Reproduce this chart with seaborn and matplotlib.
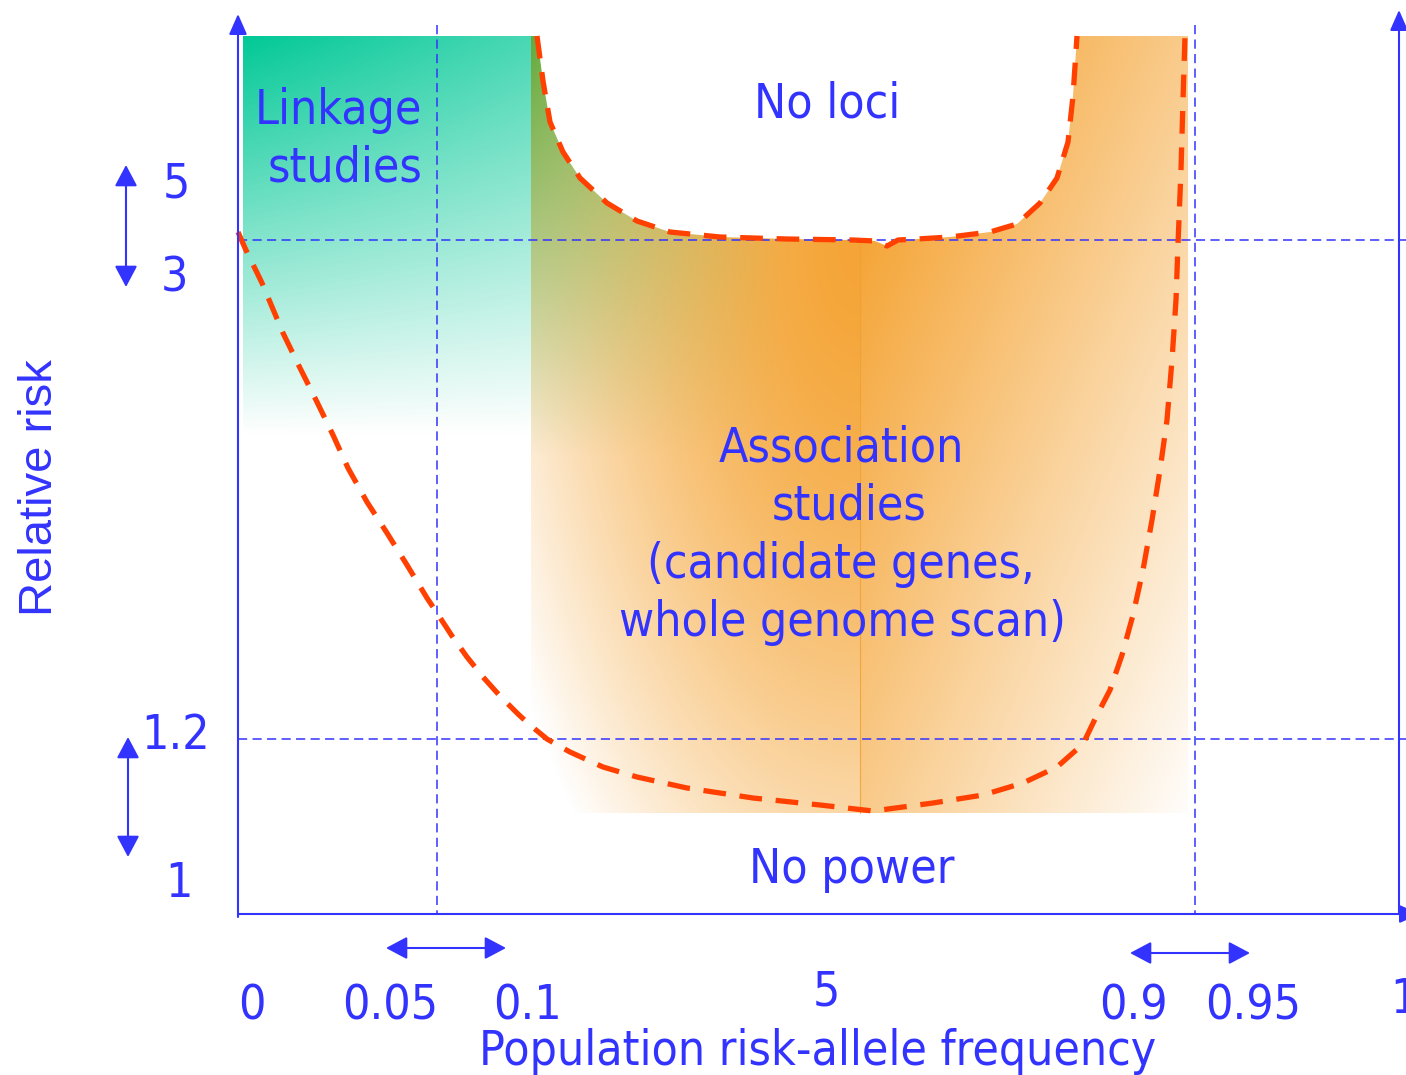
import numpy as np
import matplotlib
matplotlib.use("Agg")
import matplotlib.pyplot as plt
import seaborn as sns
from matplotlib.patches import Polygon, Rectangle, FancyArrowPatch, ArrowStyle

# ---------------- data (diagram coordinates, pixel-like units) ----------------
W, H = 1406, 1075

# upper boundary of association region ("No loci" limit)
upper_x = [537, 543, 550, 563, 580, 607, 637, 670, 720, 787, 853, 875, 887, 898,
           917, 950, 990, 1017, 1040, 1057, 1068, 1073, 1077]
upper_y = [36, 81, 122, 152, 178, 203, 221, 232, 237, 239, 240, 241, 246, 240,
           239, 237, 232, 224, 203, 178, 142, 96, 36]

# lower boundary ("No power" limit)
lower_x = [238, 245, 262, 283, 300, 317, 333, 348, 367, 387, 407, 427, 437, 452,
           467, 483, 500, 518, 530, 547, 570, 603, 637, 687, 753, 820, 873, 903,
           933, 983, 1023, 1057, 1083, 1096, 1110, 1122, 1133, 1143, 1152, 1160,
           1167, 1172, 1176, 1178, 1181, 1183, 1185]
lower_y = [232, 248, 283, 333, 368, 402, 435, 468, 502, 533, 565, 598, 613, 636,
           657, 677, 696, 714, 725, 739, 752, 767, 777, 788, 798, 805, 811, 807,
           803, 795, 783, 767, 744, 717, 690, 655, 615, 570, 520, 470, 420, 360,
           300, 244, 170, 100, 36]

y_tick_labels = ["5", "3", "1.2", "1"]
x_tick_labels = ["0", "0.05", "0.1", "5", "0.9", "0.95", "1"]
region_labels = ["No loci", "No power"]
linkage_lines = ["Linkage", "studies"]
assoc_lines = ["Association", "studies", "(candidate genes,", "whole genome scan)"]
x_title = "Population risk-allele frequency"
y_title = "Relative risk"

# ---------------- layout (positions) ----------------
y_tick_xy = [(176, 198), (174, 292), (176, 749), (179, 897)]
x_tick_xy = [(252, 1020), (390, 1020), (527, 1020), (826, 1005),
             (1133, 1019), (1253, 1019), (1404, 1013)]
region_xy = [(827, 118), (852, 883)]
linkage_xy = [(422, 124), (423, 182)]
assoc_xy = [(841, 462), (849, 519), (841, 578), (842, 636)]
guide_x = [437, 1195]
guide_y = [240, 739]
axis_left_x, axis_bottom_y, axis_right_x = 238, 914, 1399
green_box = (243, 36, 531, 460)
orange_box = (531, 36, 1188, 813)
seam_x = 860

BLUE = "#3333FF"
RED = "#FF4000"

sns.set_theme(style="white")
plt.rcParams["font.family"] = ["DejaVu Sans"]

fig = plt.figure(figsize=(W / 100, H / 100), dpi=100)
ax = fig.add_axes([0, 0, 1, 1])
ax.set_xlim(0, W)
ax.set_ylim(H, 0)
ax.axis("off")

# ---------------- gradient fills ----------------
Xg, Yg = np.meshgrid(np.arange(W) + 0.5, np.arange(H) + 0.5)

# green (linkage) fill
a_v = np.clip(1 - (Yg - 36) / 400, 0, 1)
a_h = 1 - 0.28 * np.clip((Xg - 243) / 288, 0, 1)
img_g = np.zeros((H, W, 4))
img_g[..., :3] = np.array([0, 200, 150]) / 255
img_g[..., 3] = a_v * a_h
gx0, gy0, gx1, gy1 = green_box
clip_g = Rectangle((gx0, gy0), gx1 - gx0, gy1 - gy0, fc="none", ec="none")
ax.add_patch(clip_g)
im_g = ax.imshow(img_g, extent=(0, W, H, 0), aspect="auto", interpolation="bilinear", zorder=1)
im_g.set_clip_path(clip_g)

# orange (association) fill
dx = Xg - seam_x
dy = Yg - 240
rl = np.sqrt((dx / 400) ** 2 + (np.clip(dy, 0, None) / 820) ** 2)
bl = np.clip(1 - rl ** 1.6, 0, 1)
br = np.clip(1 - dx / 576 - dy / 1394, 0, 1)
b = np.where(dx < 0, bl, br)
O = np.array([245, 165, 55]) / 255
base = 1 - b[..., None] * (1 - O)
g = np.clip(1 - (Yg - 36) / 420, 0, 1) * np.clip(1 - (Xg - 531) / 260, 0, 1)
Gd = np.array([100, 170, 60]) / 255
col = base * (1 - g[..., None]) + Gd * g[..., None]
ox0, oy0, ox1, oy1 = orange_box
poly = [(ox0, oy1), (ox0, oy0)] + list(zip(upper_x, upper_y)) + [(ox1, oy0), (ox1, oy1)]
clip_o = Polygon(poly, closed=True, fc="none", ec="none")
ax.add_patch(clip_o)
im_o = ax.imshow(col, extent=(0, W, H, 0), aspect="auto", interpolation="bilinear", zorder=1)
im_o.set_clip_path(clip_o)
ax.plot([seam_x, seam_x], [240, oy1], color="#F0A030", lw=0.8, alpha=0.8, zorder=2)

# ---------------- guides ----------------
for gx in guide_x:
    ax.plot([gx, gx], [25, axis_bottom_y], color=BLUE, lw=1.1,
            linestyle=(0, (6, 3.5)), zorder=3)
for gy in guide_y:
    ax.plot([axis_left_x, W], [gy, gy], color=BLUE, lw=1.1,
            linestyle=(0, (6, 3.5)), zorder=3)

# ---------------- boundary curves ----------------
for xs, ys in [(upper_x, upper_y), (lower_x, lower_y)]:
    sns.lineplot(x=xs, y=ys, sort=False, estimator=None, color=RED, lw=3.8,
                 linestyle=(0, (4.3, 2.6)), ax=ax, zorder=4)

# ---------------- axes arrows ----------------
def arrow(p0, p1, style, hl, hw, lw=1.5):
    ap = FancyArrowPatch(p0, p1, arrowstyle=ArrowStyle(style, head_length=hl, head_width=hw),
                         mutation_scale=1, color=BLUE, lw=lw, shrinkA=0, shrinkB=0, zorder=5)
    ax.add_patch(ap)

arrow((axis_left_x, 917), (axis_left_x, 14), "-|>", 12.5, 5.5)
arrow((axis_right_x, axis_bottom_y), (axis_right_x, 10), "-|>", 12.5, 5.5)
arrow((axis_left_x, axis_bottom_y), (1420, axis_bottom_y), "-|>", 12.5, 5.5)
arrow((126, 165), (126, 287), "<|-|>", 13, 6.9)
arrow((128, 737), (128, 857), "<|-|>", 13, 6.9)
arrow((386, 948), (506, 948), "<|-|>", 13, 6.9)
arrow((1130, 953), (1250, 953), "<|-|>", 13, 6.9)

# ---------------- text ----------------
tk = dict(color=BLUE, fontsize=34.5, fontstretch="condensed", family="DejaVu Sans", zorder=6)
for lab, (x, y) in zip(y_tick_labels, y_tick_xy):
    ax.text(x, y, lab, ha="center", va="baseline", **tk)
for lab, (x, y) in zip(x_tick_labels, x_tick_xy):
    ax.text(x, y, lab, ha="center", va="baseline", **tk)
for lab, (x, y) in zip(region_labels, region_xy):
    ax.text(x, y, lab, ha="center", va="baseline", **tk)
for lab, (x, y) in zip(linkage_lines, linkage_xy):
    ax.text(x, y, lab, ha="right", va="baseline", **tk)
for lab, (x, y) in zip(assoc_lines, assoc_xy):
    ax.text(x, y, lab, ha="center", va="baseline", **tk)
ax.text(818, 1065, x_title, ha="center", va="baseline", **tk)
ax.text(52, 488, y_title, ha="center", va="baseline", rotation=90, rotation_mode="anchor",
        color=BLUE, fontsize=34, family="Liberation Sans", zorder=6)

ax.set_xlim(0, W)
ax.set_ylim(H, 0)
fig.savefig("out.png", dpi=100)
